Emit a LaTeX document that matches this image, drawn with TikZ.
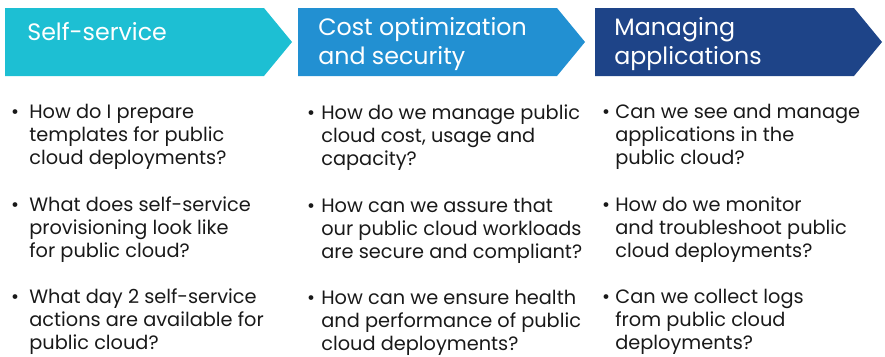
\documentclass[tikz,border=0pt]{standalone}
\usepackage{fontspec}
\setmainfont{Poppins}
\usetikzlibrary{positioning}
\definecolor{hdr_cyan}{RGB}{29, 191, 211}
\definecolor{hdr_blue}{RGB}{34, 144, 210}
\definecolor{hdr_navy}{RGB}{30, 68, 136}
\definecolor{txt_dark}{RGB}{25, 25, 25}

\begin{document}
\begin{tikzpicture}[x=0.02cm, y=-0.02cm,
      hdr/.style={anchor=base west, inner sep=0pt, align=left, text=white,
                  font=\fontsize{13.5}{16.4}\selectfont},
      qtext/.style={anchor=base west, inner sep=0pt, align=left, text=txt_dark,
                    font=\fontsize{11}{13}\selectfont},
      bul/.style={anchor=base, inner sep=0pt, text=txt_dark,
                  font=\fontsize{11}{13}\selectfont}]
      \useasboundingbox (0,0) rectangle (885,356);
      % chevrons
      \fill[hdr_cyan] (5,8) -- (264,8) -- (292,42) -- (264,76) -- (5,76) -- cycle;
      \fill[hdr_blue] (298,8) -- (557,8) -- (585,42) -- (557,76) -- (298,76) -- cycle;
      \fill[hdr_navy] (595,8) -- (854,8) -- (882,42) -- (854,76) -- (595,76) -- cycle;
      % headers (base = last line)
      \node[hdr] (h1) at (27,40)  {Self-service};
      \node[hdr] (h2) at (318,64) {Cost optimization\\and security};
      \node[hdr] (h3) at (614,64) {Managing\\applications};
      % self-service
      \node[bul] (b11) at (15,118) {•};
      \node[qtext] (q11) at (29,164) {How do I prepare\\templates for public\\cloud deployments?};
      \node[bul] (b12) at (15,211) {•};
      \node[qtext] (q12) at (29,257) {What does self-service\\provisioning look like\\for public cloud?};
      \node[bul] (b13) at (15,303) {•};
      \node[qtext] (q13) at (29,349) {What day 2 self-service\\actions are available for\\public cloud?};
      % cost and security
      \node[bul] (b21) at (311,119) {•};
      \node[qtext] (q21) at (321,165) {How do we manage public\\cloud cost, usage and\\capacity?};
      \node[bul] (b22) at (311,212) {•};
      \node[qtext] (q22) at (321,258) {How can we assure that\\our public cloud workloads\\are secure and compliant?};
      \node[bul] (b23) at (311,304) {•};
      \node[qtext] (q23) at (321,350) {How can we ensure health\\and performance of public\\cloud deployments?};
      % applications
      \node[bul] (b31) at (606,118) {•};
      \node[qtext] (q31) at (615,164) {Can we see and manage\\applications in the\\public cloud?};
      \node[bul] (b32) at (606,211) {•};
      \node[qtext] (q32) at (615,257) {How do we monitor\\and troubleshoot public\\cloud deployments?};
      \node[bul] (b33) at (606,303) {•};
      \node[qtext] (q33) at (615,349) {Can we collect logs\\from public cloud\\deployments?};
    \end{tikzpicture}
\end{document}
